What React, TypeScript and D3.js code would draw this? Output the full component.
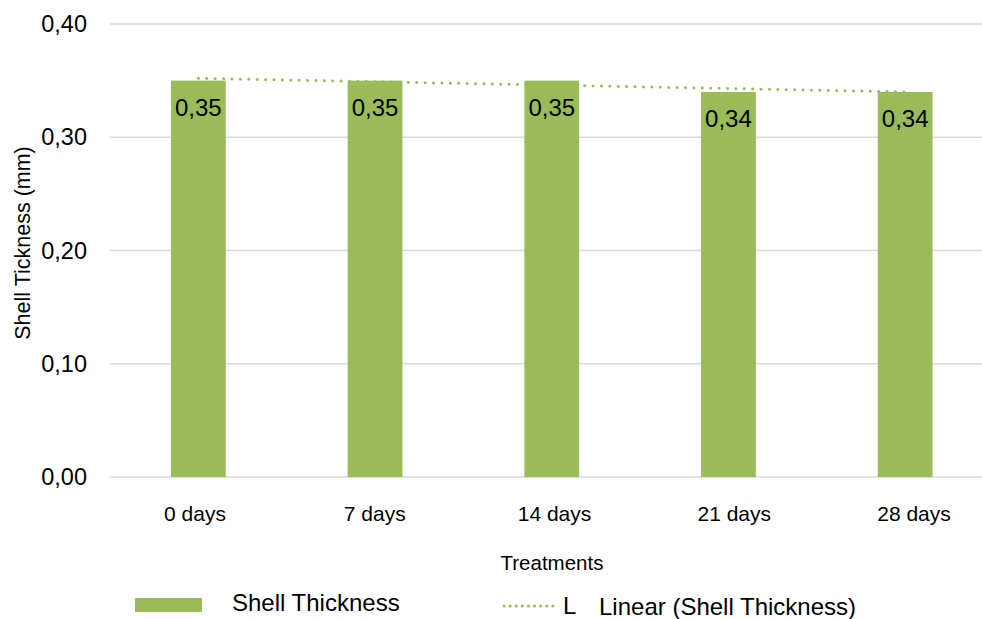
import React, { useEffect, useRef } from "react";
import * as d3 from "d3";

const categories = ["0 days", "7 days", "14 days", "21 days", "28 days"];
const values = [0.35, 0.35, 0.35, 0.34, 0.34];
const yTicks = [0, 0.1, 0.2, 0.3, 0.4];
const seriesName = "Shell Thickness";
const trendName = "Linear (Shell Thickness)";
const yTitle = "Shell Tickness (mm)";
const xTitle = "Treatments";

const W = 982;
const H = 619;
const GREEN = "#9BBB59";
const FONT = "'Liberation Sans', Arial, sans-serif";

export default function App() {
  const ref = useRef<SVGSVGElement>(null);

  useEffect(() => {
    document.body.style.margin = "0";
    const svg = d3.select(ref.current);
    svg.selectAll("*").remove();

    const x = d3
      .scaleBand<string>()
      .domain(categories)
      .range([110, 993.5])
      .paddingInner(0.69)
      .paddingOuter(0.345);
    const xLabel = d3.scalePoint<string>().domain(categories).range([195, 914]);
    const y = d3.scaleLinear().domain([0, 0.4]).range([477, 24]);
    const fmt = (v: number) => d3.format(".2f")(v).replace(".", ",");

    // gridlines
    svg
      .append("g")
      .selectAll("line")
      .data(yTicks)
      .join("line")
      .attr("x1", 110)
      .attr("x2", W)
      .attr("y1", (d) => y(d))
      .attr("y2", (d) => y(d))
      .attr("stroke", "#d9d9d9")
      .attr("stroke-width", 1.5);

    // y tick labels
    svg
      .append("g")
      .selectAll("text")
      .data(yTicks)
      .join("text")
      .attr("x", 87)
      .attr("y", (d) => y(d))
      .attr("dy", "0.35em")
      .attr("text-anchor", "end")
      .attr("font-family", FONT)
      .attr("font-size", 23.5)
      .attr("fill", "#000")
      .text((d) => fmt(d));

    // bars
    svg
      .append("g")
      .selectAll("rect")
      .data(values)
      .join("rect")
      .attr("x", (_, i) => x(categories[i])!)
      .attr("width", x.bandwidth())
      .attr("y", (d) => y(d))
      .attr("height", (d) => y(0) - y(d))
      .attr("fill", GREEN);

    // trendline (linear regression)
    const n = values.length;
    const xs = values.map((_, i) => i);
    const mx = d3.mean(xs)!;
    const my = d3.mean(values)!;
    const slope =
      d3.sum(xs.map((xi, i) => (xi - mx) * (values[i] - my))) /
      d3.sum(xs.map((xi) => (xi - mx) ** 2));
    const icpt = my - slope * mx;
    const cx = (i: number) => x(categories[i])! + x.bandwidth() / 2;
    const trend = d3
      .line<number>()
      .x((i) => cx(i))
      .y((i) => y(icpt + slope * i));
    svg
      .append("path")
      .attr("d", trend([0, n - 1]))
      .attr("fill", "none")
      .attr("stroke", GREEN)
      .attr("stroke-width", 3)
      .attr("stroke-linecap", "round")
      .attr("stroke-dasharray", "0.1 8.3");

    // data labels
    svg
      .append("g")
      .selectAll("text")
      .data(values)
      .join("text")
      .attr("x", (_, i) => cx(i))
      .attr("y", (d) => y(d) + 27)
      .attr("dy", "0.35em")
      .attr("text-anchor", "middle")
      .attr("font-family", FONT)
      .attr("font-size", 24)
      .attr("fill", "#000")
      .text((d) => fmt(d));

    // category labels
    svg
      .append("g")
      .selectAll("text")
      .data(categories)
      .join("text")
      .attr("x", (d) => xLabel(d)!)
      .attr("y", 514)
      .attr("dy", "0.35em")
      .attr("text-anchor", "middle")
      .attr("font-family", FONT)
      .attr("font-size", 21)
      .attr("fill", "#000")
      .text((d) => d);

    // axis titles
    svg
      .append("text")
      .attr("transform", "translate(22,243) rotate(-90)")
      .attr("dy", "0.35em")
      .attr("text-anchor", "middle")
      .attr("font-family", FONT)
      .attr("font-size", 21.5)
      .attr("fill", "#000")
      .text(yTitle);
    svg
      .append("text")
      .attr("x", 552)
      .attr("y", 563)
      .attr("dy", "0.35em")
      .attr("text-anchor", "middle")
      .attr("font-family", FONT)
      .attr("font-size", 20.5)
      .attr("fill", "#000")
      .text(xTitle);

    // legend
    const lg = svg.append("g");
    lg.append("rect")
      .attr("x", 135)
      .attr("y", 598)
      .attr("width", 67)
      .attr("height", 14)
      .attr("fill", GREEN);
    lg.append("text")
      .attr("x", 232)
      .attr("y", 603)
      .attr("dy", "0.35em")
      .attr("font-family", FONT)
      .attr("font-size", 24)
      .attr("fill", "#000")
      .text(seriesName);
    lg.append("line")
      .attr("x1", 504)
      .attr("x2", 556)
      .attr("y1", 606)
      .attr("y2", 606)
      .attr("stroke", GREEN)
      .attr("stroke-width", 3)
      .attr("stroke-linecap", "round")
      .attr("stroke-dasharray", "0.1 6");
    lg.append("text")
      .attr("x", 563)
      .attr("y", 606)
      .attr("dy", "0.35em")
      .attr("font-family", FONT)
      .attr("font-size", 24)
      .attr("fill", "#000")
      .text("L");
    lg.append("text")
      .attr("x", 599)
      .attr("y", 607)
      .attr("dy", "0.35em")
      .attr("font-family", FONT)
      .attr("font-size", 24)
      .attr("fill", "#000")
      .text(trendName);
  }, []);

  return (
    <svg
      ref={ref}
      width={W}
      height={H}
      style={{ position: "absolute", left: 0, top: 0, background: "#fff" }}
    />
  );
}
